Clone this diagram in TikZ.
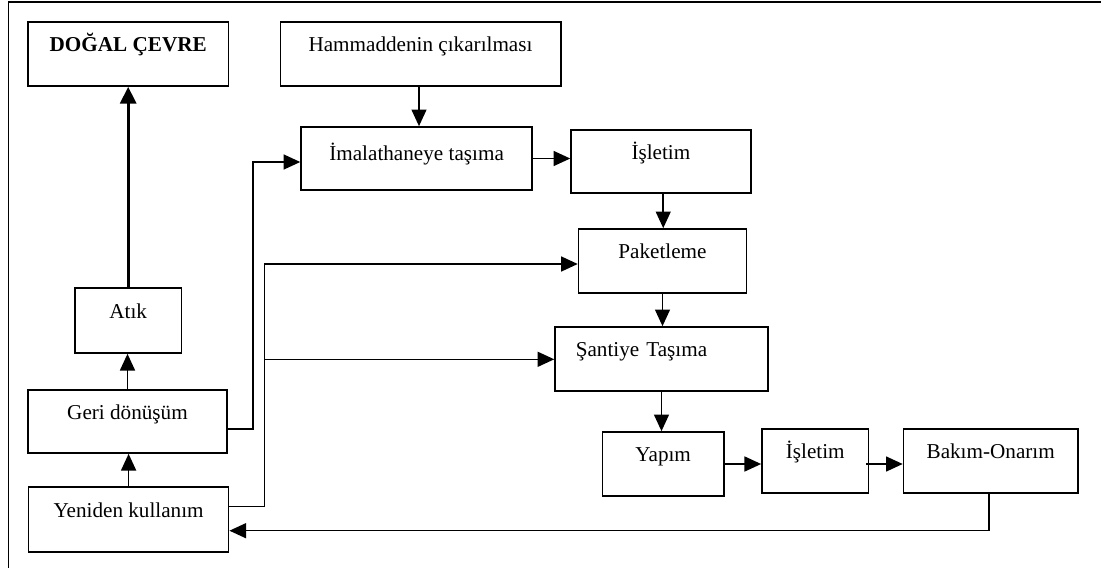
\documentclass[tikz,border=0pt]{standalone}
\usepackage{fontspec}
\setmainfont{Liberation Serif}
\usetikzlibrary{arrows.meta}

\begin{document}
\begin{tikzpicture}[x=0.6pt, y=-0.6pt,
    box/.style={draw, line width=1pt, minimum height=38.4pt, inner sep=2pt,
        text height=8pt, text depth=11pt, align=center, font=\fontsize{12.7}{15}\selectfont},
    arr/.style={line width=0.9pt, -{Triangle[length=10pt, width=9pt]}},
    bigarr/.style={line width=2pt, -{Triangle[length=10pt, width=9.5pt]}}
]
    \useasboundingbox (0,0) rectangle (1101,568);
    % frame
    \draw[line width=1pt] (1101,2) -- (8.6,2) -- (8.6,568);

    % left column
    \node[box, minimum width=120.4pt] (dogal) at (128.2,54) {\textbf{DOĞAL ÇEVRE}};
    \node[box, minimum width=63.8pt, minimum height=39pt] (atik) at (128.2,320.5) {Atık};
    \node[box, minimum width=119.5pt, minimum height=37.8pt] (geri) at (127.5,421.5) {Geri dönüşüm};
    \node[box, minimum width=120pt, minimum height=39pt] (yeniden) at (128.6,519.5) {Yeniden kullanım};

    % production chain
    \node[box, minimum width=168.2pt] (hammadde) at (420.5,54) {Hammaddenin çıkarılması};
    \node[box, minimum width=138.6pt, minimum height=37.8pt, text depth=6pt] (imalat) at (416.6,158.5) {İmalathaneye taşıma};
    \node[box, minimum width=107.8pt, minimum height=37.8pt] (isletimA) at (660.9,161.5) {İşletim};
    \node[box, minimum width=100.7pt] (paket) at (662.5,261) {Paketleme};
    \node[box, align=left, text width=102.9pt, inner xsep=12.4pt] (santiye) at (661.5,359) {Şantiye Taşıma};

    % building life
    \node[box, minimum width=72.9pt] (yapim) at (663.2,464) {Yapım};
    \node[box, minimum width=64pt] (isletimB) at (815.3,461) {İşletim};
    \node[box, minimum width=104.6pt] (bakim) at (990.7,461) {Bakım-Onarım};

    % bends of the return lines
    \coordinate (jA) at (253.2,162);
    \coordinate (jB) at (264.6,264);
    \coordinate (jC) at (264.6,359.3);
    \coordinate (ret) at (988.9,530.7);

    % arrows
    \draw[bigarr] (atik.north) -- (dogal.south);
    \draw[arr] (geri.north) -- (geri.north |- atik.south);
    \draw[arr] (yeniden.north) -- (yeniden.north |- geri.south);
    \draw[arr] ([xshift=-0.9pt]hammadde.south) -- ([xshift=-0.9pt]hammadde.south |- imalat.north);
    \draw[arr] (imalat.east) -- (imalat.east -| isletimA.west);
    \draw[arr] ([xshift=1.4pt]isletimA.south) -- ([xshift=1.4pt]isletimA.south |- paket.north);
    \draw[arr] (paket.south) -- (paket.south |- santiye.north);
    \draw[arr] (santiye.south) -- (santiye.south |- yapim.north);
    \draw[arr] (yapim.east) -- (yapim.east -| isletimB.west);
    \draw[arr] ([xshift=-2pt]isletimB.east |- yapim.east) -- (bakim.west |- yapim.east);
    \draw[arr] (bakim.south -| ret) -- (ret) -- (ret -| yeniden.east);
    \draw[arr] ([yshift=-4.5pt]geri.east) -| (jA) -- (jA -| imalat.west);
    \draw[arr] ([yshift=7.7pt]yeniden.east) -| (jB) -- (jB -| paket.west);
    \draw[arr] (jC) -- (jC -| santiye.west);
\end{tikzpicture}
\end{document}
